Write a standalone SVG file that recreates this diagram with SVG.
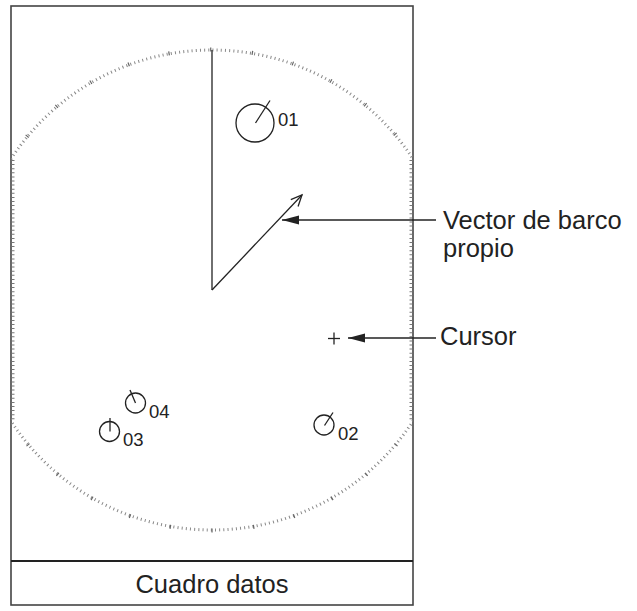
<svg xmlns="http://www.w3.org/2000/svg" width="637" height="611" viewBox="0 0 637 611">
<style>
.ln{stroke:#222;stroke-width:1.3;fill:none}
.frame{stroke:#444;stroke-width:1.6;fill:#fff}
.t{font-family:"Liberation Sans",Arial,sans-serif;fill:#222}
.lbl{font-size:25.5px}
.num{font-size:18.5px}
.tgt{stroke:#222;stroke-width:1.3;fill:none}
.edge{stroke:#777;stroke-width:3;stroke-dasharray:1 3.1}
</style>
<defs>
<clipPath id="scr"><rect x="11" y="6" width="402" height="554"/></clipPath>
<marker id="fill" markerUnits="userSpaceOnUse" markerWidth="20" markerHeight="12" viewBox="-17 -6 20 12" refX="0" refY="0" orient="auto">
<path d="M0,0 L-17,-4.5 L-17,4.5 Z" fill="#222"/>
</marker>
<marker id="open" markerUnits="userSpaceOnUse" markerWidth="16" markerHeight="14" viewBox="-13 -7 16 14" refX="0" refY="0" orient="auto">
<path d="M-11,-5 L0,0 L-11,5" fill="none" stroke="#222" stroke-width="1.3"/>
</marker>
</defs>
<rect width="637" height="611" fill="#fff"/>
<g id="display">
<rect class="frame" x="11" y="6" width="402" height="599"/>
</g>
<g id="range-ring" clip-path="url(#scr)">
<circle cx="212" cy="290" r="240" fill="none" stroke="#888" stroke-width="3" stroke-dasharray="1 3.1888"/>
<circle cx="212" cy="290" r="240.5" fill="none" stroke="#666" stroke-width="4" stroke-dasharray="1.2 40.688"/>
<line class="edge" x1="13" y1="160" x2="13" y2="421"/>
<line class="edge" x1="411" y1="160" x2="411" y2="421"/>
</g>
<g id="heading-line">
<line class="ln" x1="212" y1="50" x2="212" y2="290"/>
</g>
<g id="target-01">
<circle class="tgt" cx="255" cy="123" r="19"/>
<line class="tgt" x1="255.5" y1="123" x2="270" y2="100.5"/>
<text class="t num" x="278" y="126">01</text>
</g>
<g id="target-02">
<circle class="tgt" cx="324" cy="425" r="10"/>
<line class="tgt" x1="324.5" y1="425.5" x2="333" y2="412.5"/>
<text class="t num" x="338" y="440">02</text>
</g>
<g id="target-03">
<circle class="tgt" cx="109.5" cy="431.5" r="10"/>
<line class="tgt" x1="110" y1="431.5" x2="110" y2="418"/>
<text class="t num" x="123" y="446">03</text>
</g>
<g id="target-04">
<circle class="tgt" cx="135.5" cy="403" r="10"/>
<line class="tgt" x1="135.5" y1="403" x2="130" y2="390"/>
<text class="t num" x="149" y="418">04</text>
</g>
<g id="cursor">
<line class="ln" x1="328" y1="338.5" x2="340" y2="338.5"/>
<line class="ln" x1="334" y1="332.5" x2="334" y2="344.5"/>
</g>
<g id="data-box">
<line x1="11" y1="561" x2="413" y2="561" stroke="#222" stroke-width="1.8"/>
<text class="t lbl" x="212" y="593" text-anchor="middle">Cuadro datos</text>
</g>
<g id="label-vector">
<text class="t lbl" x="443" y="229">Vector de barco</text>
<text class="t lbl" x="443" y="257">propio</text>
</g>
<g id="label-cursor">
<text class="t lbl" x="440" y="345">Cursor</text>
</g>
<g id="connectors">
<line class="ln" x1="212" y1="290" x2="302" y2="195" marker-end="url(#open)"/>
<line class="ln" x1="436" y1="220" x2="282" y2="220" marker-end="url(#fill)"/>
<line class="ln" x1="436" y1="338" x2="348" y2="338" marker-end="url(#fill)"/>
</g>
</svg>
